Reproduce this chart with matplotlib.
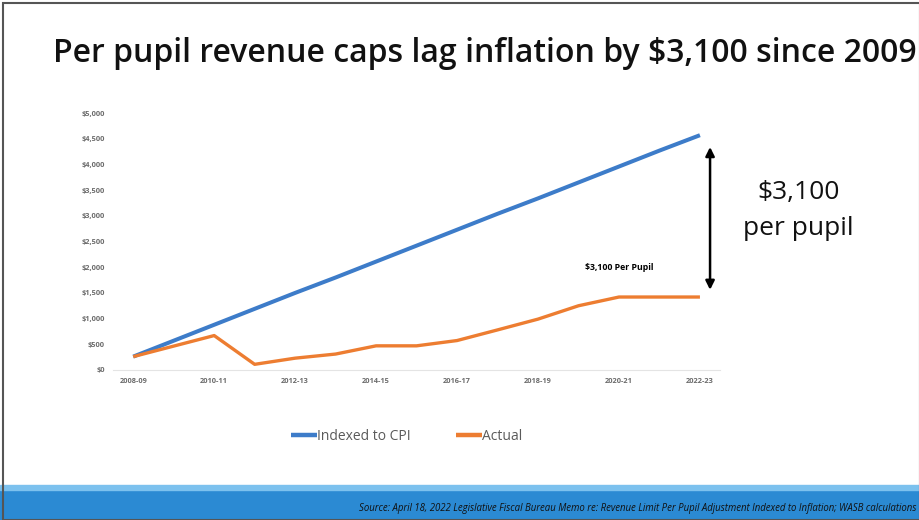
import matplotlib.pyplot as plt
from matplotlib.patches import Rectangle
from matplotlib.ticker import FuncFormatter

years = ['2008-09', '2009-10', '2010-11', '2011-12', '2012-13', '2013-14', '2014-15',
         '2015-16', '2016-17', '2017-18', '2018-19', '2019-20', '2020-21', '2021-22', '2022-23']
indexed_cpi = [260, 570, 880, 1190, 1500, 1800, 2110, 2420, 2730, 3040, 3340, 3650, 3960, 4270, 4570]
actual = [260, 465, 670, 110, 230, 310, 470, 470, 573, 780, 990, 1250, 1420, 1420, 1420]
gap_top = 4340
gap_bottom = 1560

plt.rcParams['font.family'] = ['Open Sans', 'DejaVu Sans']

fig = plt.figure(figsize=(9.2, 5.2), dpi=100)
ax = fig.add_axes([0.1228, 0.2885, 0.66, 0.494])

x = list(range(len(years)))
ax.plot(x, indexed_cpi, color='#3d7cc9', lw=2.9, label='Indexed to CPI', solid_capstyle='butt')
ax.plot(x, actual, color='#ed7d31', lw=2.4, label='Actual', solid_capstyle='butt')

ax.set_xlim(-0.5, 14.5)
ax.set_ylim(0, 5000)
ax.set_yticks(range(0, 5001, 500))
ax.yaxis.set_major_formatter(FuncFormatter(lambda v, p: '${:,.0f}'.format(v)))
ax.set_xticks(x[::2])
ax.set_xticklabels(years[::2])
ax.tick_params(length=0, labelsize=5.3, labelcolor='#6b6b6b', pad=6)
for lab in ax.get_xticklabels() + ax.get_yticklabels():
    lab.set_fontweight('bold')
for s in ['top', 'right', 'left']:
    ax.spines[s].set_visible(False)
ax.spines['bottom'].set_color('#e4e4e4')

# gap arrow and labels
ax.annotate('', xy=(14.25, gap_bottom), xytext=(14.25, gap_top),
            arrowprops=dict(arrowstyle='<|-|>', color='black', lw=1.8,
                            mutation_scale=13, shrinkA=0, shrinkB=0))
ax.text(12.0, 2000, '$3,100 Per Pupil', fontsize=6.3, fontweight='bold', ha='center', va='center')

fig.text(0.868, 0.595, '$3,100\nper pupil', fontsize=19, ha='center', va='center',
         linespacing=1.6, color='#111111')

fig.text(0.527, 0.898, 'Per pupil revenue caps lag inflation by $3,100 since 2009',
         fontsize=23, ha='center', va='center', fontweight='semibold', color='#111111')

leg = fig.legend(loc='center', bbox_to_anchor=(0.442, 0.16), ncol=2, frameon=False,
                 fontsize=10, handlelength=1.9, handletextpad=0.0, columnspacing=3.2)
for line in leg.get_lines():
    line.set_linewidth(3.2)
for t in leg.get_texts():
    t.set_color('#5a5a5a')

# footer band
fig.patches.append(Rectangle((0, 0), 1, 0.058, transform=fig.transFigure, color='#2b8ad3', zorder=0))
fig.patches.append(Rectangle((0, 0.058), 1, 0.01, transform=fig.transFigure, color='#7cc1ee', zorder=0))
fig.text(0.996, 0.023, 'Source: April 18, 2022 Legislative Fiscal Bureau Memo re: Revenue Limit Per Pupil '
         'Adjustment Indexed to Inflation; WASB calculations', fontsize=6.95, style='italic',
         color='#111111', ha='right', va='center')

# slide frame
fig.patches.append(Rectangle((0.003, 0.0), 0.997, 0.994, transform=fig.transFigure,
                             fill=False, edgecolor='#555555', lw=1.5, zorder=5))

fig.savefig('out.png', dpi=100)
